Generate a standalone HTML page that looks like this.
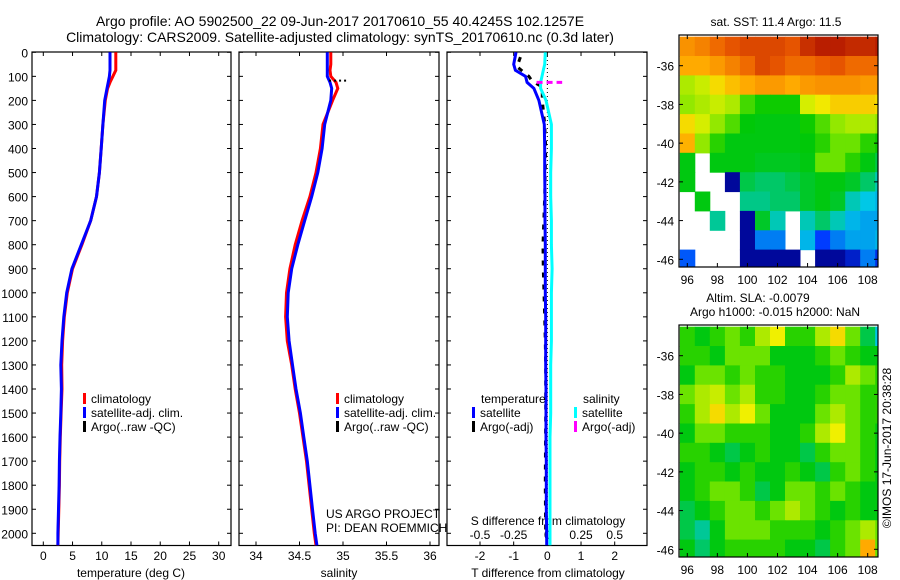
<!DOCTYPE html>
<html><head><meta charset="utf-8">
<style>
html,body{margin:0;padding:0;background:#fff;}
svg{display:block;font-family:"Liberation Sans",sans-serif;}
</style></head>
<body>
<svg id="fig" width="900" height="580" viewBox="0 0 900 580" xmlns="http://www.w3.org/2000/svg"></svg>
<script>
// ---- data ----
const depths = [0,50,75,100,125,150,200,300,400,500,600,700,800,900,1000,1100,1200,1300,1400,1500,1600,1700,1800,1900,2000,2050];
const tempClim = [12.4,12.4,12.4,11.9,11.4,11.0,10.6,10.2,9.9,9.6,9.1,8.1,6.6,5.0,4.1,3.6,3.3,3.15,3.2,3.05,2.9,2.8,2.75,2.65,2.55,2.5];
const tempSat  = [11.4,11.4,11.4,11.3,11.1,10.9,10.5,10.2,9.9,9.6,9.1,8.1,6.5,4.9,4.0,3.5,3.2,3.0,3.1,3.0,2.85,2.75,2.7,2.6,2.5,2.5];
const salClim = [34.86,34.86,34.85,34.86,34.92,34.94,34.88,34.77,34.74,34.69,34.62,34.53,34.45,34.39,34.35,34.34,34.36,34.41,34.45,34.50,34.54,34.58,34.61,34.64,34.67,34.69];
const salSat  = [34.82,34.82,34.82,34.82,34.85,34.87,34.86,34.79,34.76,34.71,34.64,34.56,34.48,34.41,34.37,34.36,34.38,34.42,34.46,34.51,34.55,34.59,34.62,34.65,34.68,34.70];
const tDiffSat = [-0.93,-1.0,-0.95,-0.65,-0.6,-0.4,-0.25,-0.09,-0.08,-0.08,-0.07,-0.07,-0.06,-0.06,-0.06,-0.05,-0.05,-0.05,-0.04,-0.04,-0.04,-0.03,-0.03,-0.03,-0.02,-0.02];
const sDiffSat = [-0.015,-0.02,-0.03,-0.04,-0.05,-0.05,-0.01,0.03,0.03,0.025,0.025,0.03,0.03,0.035,0.03,0.03,0.03,0.025,0.025,0.025,0.02,0.02,0.02,0.02,0.02,0.02];
const argoDepths = [20,60,100,120,140,160,200,300,400,600,800,900,1000,1100,1200,1300,1500,1800,2000];
const argoTDiff = [-0.8,-0.9,-0.55,-0.45,-0.2,-0.15,-0.15,-0.08,-0.05,-0.08,-0.13,-0.12,-0.1,-0.08,-0.06,-0.05,-0.05,-0.06,-0.05];
const argoSalDepth = [125];
const argoSalDiff = [[-0.08,0.11]];
const tempTicks = [0,5,10,15,20,25,30];
const salTicks = [34,34.5,35,35.5,36];
const depthTicks = [0,100,200,300,400,500,600,700,800,900,1000,1100,1200,1300,1400,1500,1600,1700,1800,1900,2000];
const tDiffTicks = [-2,-1,0,1,2];
const sDiffTicks = [-0.5,-0.25,0,0.25,0.5];
const sDiffTickLabels = ["-0.5","-0.25","0","0.25","0.5"];
const lonTicks = [96,98,100,102,104,106,108];
const latTicks = [-36,-38,-40,-42,-44,-46];
const gridLons = [96,97,98,99,100,101,102,103,104,105,106,107,108,109];
const gridLats = [-35,-36,-37,-38,-39,-40,-41,-42,-43,-44,-45,-46];
const N = null;
const sstGrid = [
[0.78,0.8,0.83,0.86,0.88,0.88,0.88,0.86,0.92,0.95,0.95,0.93,0.93,0.95],
[0.75,0.75,0.77,0.8,0.83,0.88,0.86,0.83,0.83,0.85,0.86,0.83,0.83,0.83],
[0.6,0.62,0.68,0.72,0.75,0.77,0.77,0.75,0.77,0.78,0.78,0.78,0.77,0.77],
[0.58,0.6,0.62,0.6,0.52,0.48,0.48,0.48,0.63,0.66,0.7,0.7,0.7,0.68],
[0.68,0.63,0.58,0.53,0.46,0.45,0.45,0.45,0.48,0.53,0.58,0.6,0.6,0.58],
[0.74,0.58,0.5,0.45,0.45,0.45,0.45,0.45,0.46,0.5,0.55,0.55,0.5,0.48],
[0.45,N,0.45,0.45,0.45,0.43,0.43,0.43,0.45,0.55,0.55,0.5,0.45,0.4],
[0.45,N,N,0.02,0.4,0.38,0.38,0.4,0.42,0.45,0.45,0.42,0.38,0.33],
[N,0.45,N,N,0.36,0.36,0.38,0.38,0.42,0.45,0.42,0.33,0.3,0.28],
[N,N,0.35,N,0.02,0.42,0.33,N,0.33,0.38,0.33,0.28,0.26,0.26],
[N,N,N,N,0.02,0.22,0.22,N,0.28,0.15,0.22,0.26,0.26,0.28],
[0.18,N,N,N,0.02,0.02,0.02,0.02,N,0.02,0.02,0.08,0.22,0.12]];
const slaGrid = [
[0.5,0.45,0.5,0.55,0.5,0.6,0.65,0.5,0.5,0.6,0.68,0.55,0.4,0.3],
[0.5,0.5,0.45,0.55,0.55,0.55,0.45,0.45,0.45,0.5,0.55,0.5,0.45,0.45],
[0.45,0.55,0.55,0.5,0.55,0.5,0.5,0.45,0.45,0.45,0.5,0.6,0.55,0.5],
[0.55,0.6,0.62,0.55,0.6,0.5,0.5,0.45,0.45,0.5,0.55,0.55,0.5,0.5],
[0.5,0.6,0.68,0.6,0.65,0.55,0.45,0.45,0.45,0.55,0.6,0.55,0.5,0.5],
[0.45,0.55,0.55,0.5,0.5,0.5,0.45,0.45,0.5,0.6,0.65,0.55,0.5,0.45],
[0.5,0.5,0.45,0.4,0.45,0.5,0.45,0.45,0.4,0.5,0.55,0.55,0.5,0.45],
[0.45,0.5,0.5,0.45,0.5,0.45,0.45,0.5,0.45,0.4,0.5,0.55,0.5,0.45],
[0.45,0.5,0.55,0.55,0.5,0.4,0.45,0.55,0.55,0.5,0.55,0.5,0.45,0.45],
[0.4,0.45,0.5,0.55,0.55,0.5,0.55,0.6,0.55,0.5,0.45,0.5,0.45,0.45],
[0.4,0.35,0.45,0.55,0.55,0.55,0.5,0.5,0.5,0.45,0.5,0.55,0.6,0.55],
[0.45,0.38,0.45,0.5,0.5,0.5,0.5,0.45,0.45,0.4,0.5,0.55,0.75,0.55]];

// ---- helpers ----
const svg = document.getElementById('fig');
const NS = 'http://www.w3.org/2000/svg';
function el(tag, attrs, parent){ const e=document.createElementNS(NS,tag); for(const k in attrs) e.setAttribute(k,attrs[k]); (parent||svg).appendChild(e); return e; }
function txt(s,x,y,anchor,size,parent){ const t=el('text',{x:x,y:y,'text-anchor':anchor||'start','font-size':size||12,fill:'#000'},parent); t.textContent=s; return t; }
const yD = d => 52.3 + d*0.2405;
const PB = {top:52, bot:545.5};
function lin(v0,p0,v1,p1){ return v => p0 + (v-v0)*(p1-p0)/(v1-v0); }
const xT = lin(0,43.3,30,218.7);
const xS = lin(34,256,36,430);
const xTd = lin(-2,480,2,614.7);
const xSd = lin(-0.5,480,0.5,614.7);
function stepPath(xs, vals, ds){ let p=''; for(let i=0;i<vals.length;i++){ const x=xs(vals[i]).toFixed(1), y=yD(ds[i]).toFixed(1); p += (i?'L':'M')+x+','+y; } return p; }
function frame(x0,x1,name,xt,xscale,labels,labelY){
  const g=el('g',{});
  
  
  el('rect',{x:x0,y:PB.top,width:x1-x0,height:PB.bot-PB.top,fill:'none',stroke:'#000','stroke-width':1.2},g);
  xt.forEach((v,i)=>{ const x=xscale(v); el('line',{x1:x,x2:x,y1:PB.top,y2:PB.top+4,stroke:'#000'},g); el('line',{x1:x,x2:x,y1:PB.bot,y2:PB.bot-4,stroke:'#000'},g);
    if(labels) txt(labels[i],x,labelY,'middle',12,g); });
  depthTicks.forEach(d=>{ const y=yD(d); el('line',{x1:x0,x2:x0+4,y1:y,y2:y,stroke:'#000'},g); el('line',{x1:x1,x2:x1-4,y1:y,y2:y,stroke:'#000'},g); });
  return g;
}
function legendEntry(color,label,x,y,g,name){ el('rect',{x:x,y:y-10,width:3,height:11,fill:color},g); txt(label,x+8,y,'start',12,g); }

// ---- titles ----
const t1=txt('Argo profile: AO 5902500_22 09-Jun-2017 20170610_55 40.4245S 102.1257E',340,26,'middle',14);

const t2=txt('Climatology: CARS2009. Satellite-adjusted climatology: synTS_20170610.nc (0.3d later)',340,42,'middle',14);


// ---- panel 1: temperature ----
const g1=frame(32,231,'temperature-panel',tempTicks,xT,tempTicks.map(String),560);
depthTicks.forEach(d=>{ txt(String(d),28,yD(d)+5,'end',12,g1); });
txt('temperature (deg C)',131,577,'middle',12,g1);
const pc=el('path',{d:stepPath(xT,tempClim,depths),fill:'none',stroke:'#f00','stroke-width':3},g1);

const ps=el('path',{d:stepPath(xT,tempSat,depths),fill:'none',stroke:'#00f','stroke-width':3},g1);

legendEntry('#f00','climatology',83,403,g1,'legend-climatology');
legendEntry('#00f','satellite-adj. clim.',83,417,g1,'legend-satellite');
legendEntry('#000','Argo(..raw -QC)',83,431,g1,'legend-argo');

// ---- panel 2: salinity ----
const g2=frame(239,439,'salinity-panel',salTicks,xS,salTicks.map(String),560);
txt('salinity',339,577,'middle',12,g2);
const sc=el('path',{d:stepPath(xS,salClim,depths),fill:'none',stroke:'#f00','stroke-width':3},g2);

const ss=el('path',{d:stepPath(xS,salSat,depths),fill:'none',stroke:'#00f','stroke-width':3},g2);

const sa=el('line',{x1:xS(34.84),x2:xS(35.04),y1:yD(118),y2:yD(118),stroke:'#000','stroke-width':2,'stroke-dasharray':'2,3'},g2);

legendEntry('#f00','climatology',336,403,g2,'legend-climatology-2');
legendEntry('#00f','satellite-adj. clim.',336,417,g2,'legend-satellite-2');
legendEntry('#000','Argo(..raw -QC)',336,431,g2,'legend-argo-2');
txt('US ARGO PROJECT',326,518,'start',12,g2);
txt('PI: DEAN ROEMMICH',326,532,'start',12,g2);

// ---- panel 3: differences ----
const g3=frame(447,647,'difference-panel',tDiffTicks,xTd,tDiffTicks.map(String),560);
sDiffTicks.forEach((v,i)=>{ txt(sDiffTickLabels[i],xSd(v),539,'middle',12,g3); });
txt('S difference from climatology',548,525,'middle',12,g3);
txt('T difference from climatology',548,577,'middle',12,g3);
el('line',{x1:xTd(0),x2:xTd(0),y1:PB.top,y2:PB.bot,stroke:'#000','stroke-dasharray':'1,3'},g3);
const da=el('path',{d:stepPath(xTd,argoTDiff,argoDepths),fill:'none',stroke:'#000','stroke-width':3,'stroke-dasharray':'5,7'},g3);

const dc=el('path',{d:stepPath(xSd,sDiffSat,depths),fill:'none',stroke:'#0ff','stroke-width':3},g3);

const db=el('path',{d:stepPath(xTd,tDiffSat,depths),fill:'none',stroke:'#00f','stroke-width':3},g3);

argoSalDepth.forEach((d,i)=>{ const m=el('line',{x1:xSd(argoSalDiff[i][0]),x2:xSd(argoSalDiff[i][1]),y1:yD(d),y2:yD(d),stroke:'#f0f','stroke-width':3,'stroke-dasharray':'6,4'},g3);
   });
txt('temperature',481,403,'start',12,g3);
legendEntry('#00f','satellite',472,417,g3,'legend-t-satellite');
legendEntry('#000','Argo(-adj)',472,431,g3,'legend-t-argo');
txt('salinity',583,403,'start',12,g3);
legendEntry('#0ff','satellite',574,417,g3,'legend-s-satellite');
legendEntry('#f0f','Argo(-adj)',574,431,g3,'legend-s-argo');

// ---- maps ----
const cmapStops = [[0,0,0,140],[0.15,0,60,255],[0.3,0,200,230],[0.42,0,200,40],[0.47,0,200,0],[0.56,120,230,0],[0.65,240,240,0],[0.75,255,170,0],[0.85,235,90,0],[1,160,0,0]];
function cmap(v){ v=Math.max(0,Math.min(1,v)); for(let i=1;i<cmapStops.length;i++){ const a=cmapStops[i-1], b=cmapStops[i]; if(v<=b[0]){ const t=(v-a[0])/(b[0]-a[0]);
  return 'rgb('+Math.round(a[1]+t*(b[1]-a[1]))+','+Math.round(a[2]+t*(b[2]-a[2]))+','+Math.round(a[3]+t*(b[3]-a[3]))+')'; } } return 'rgb(160,0,0)'; }
function map(top,bot,grid,name,clipId){
  const x0=679,x1=878;
  const xL=lin(96,687.3,108,867.7);
  const yL=lin(-36,top+30.7,-46,top+224.3);
  const g=el('g',{});
  
  
  const cp=el('clipPath',{id:clipId},g); el('rect',{x:x0,y:top,width:x1-x0,height:bot-top},cp);
  const cg=el('g',{'clip-path':'url(#'+clipId+')'},g);
  grid.forEach((row,i)=>row.forEach((v,j)=>{ if(v===null) return;
    const xa=xL(gridLons[j]-0.5), xb=xL(gridLons[j]+0.5), ya=yL(gridLats[i]+0.5), yb=yL(gridLats[i]-0.5);
    const c=el('rect',{x:xa.toFixed(1),y:ya.toFixed(1),width:(xb-xa+0.5).toFixed(1),height:(yb-ya+0.5).toFixed(1),fill:cmap(v)},cg);
     }));
  el('rect',{x:x0,y:top,width:x1-x0,height:bot-top,fill:'none',stroke:'#000','stroke-width':1.2},g);
  lonTicks.forEach(v=>{ const x=xL(v); el('line',{x1:x,x2:x,y1:bot,y2:bot-4,stroke:'#000'},g); el('line',{x1:x,x2:x,y1:top,y2:top+4,stroke:'#000'},g); txt(String(v),x,bot+17,'middle',12,g); });
  latTicks.forEach(v=>{ const y=yL(v); el('line',{x1:x0,x2:x0+4,y1:y,y2:y,stroke:'#000'},g); el('line',{x1:x1,x2:x1-4,y1:y,y2:y,stroke:'#000'},g); txt(String(v),674,y+5,'end',12,g); });
  return g;
}
map(35,267,sstGrid,'sst-map','clipA');
map(325,557,slaGrid,'sla-map','clipB');
txt('sat. SST: 11.4 Argo: 11.5',776,26,'middle',12);
txt('Altim. SLA: -0.0079',758,302,'middle',12);
txt('Argo h1000: -0.015 h2000: NaN',775,316,'middle',12);
const cr=txt('©IMOS 17-Jun-2017 20:38:28',0,0,'middle',12);
cr.setAttribute('transform','translate(891,448) rotate(-90)');

</script>
</body></html>
